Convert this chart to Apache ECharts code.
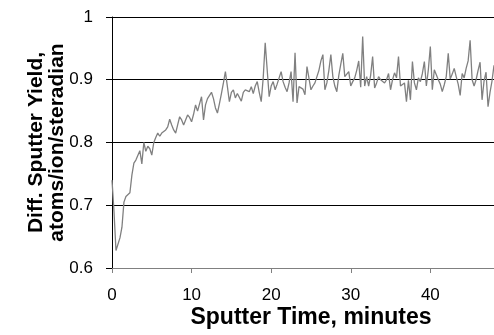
<!DOCTYPE html>
<html>
<head>
<meta charset="utf-8">
<script src="https://cdn.jsdelivr.net/npm/echarts@6/dist/echarts.min.js"></script>
<style>
html,body{margin:0;padding:0;background:#fff;}
#chart{width:494px;height:335px;}
</style>
</head>
<body>
<div id="chart"></div>
<script>
// Sputter time (minutes)
var times = [
0,0.25,0.5,0.75,1,1.25,1.5,1.75,2,2.25,2.5,2.75,3,3.25,3.5,3.75,
4,4.25,4.5,4.75,5,5.25,5.5,5.75,6,6.25,6.5,6.75,7,7.25,7.5,7.75,
8,8.25,8.5,8.75,9,9.25,9.5,9.75,10,10.25,10.5,10.75,11,11.25,11.5,11.75,
12,12.25,12.5,12.75,13,13.25,13.5,13.75,14,14.25,14.5,14.75,15,15.25,15.5,15.75,
16,16.25,16.5,16.75,17,17.25,17.5,17.75,18,18.25,18.5,18.75,19,19.25,19.5,19.75,
20,20.25,20.5,20.75,21,21.25,21.5,21.75,22,22.25,22.5,22.75,23,23.25,23.5,23.75,
24,24.25,24.5,24.75,25,25.25,25.5,25.75,26,26.25,26.5,26.75,27,27.25,27.5,27.75,
28,28.25,28.5,28.75,29,29.25,29.5,29.75,30,30.25,30.5,30.75,31,31.25,31.5,31.75,
32,32.25,32.5,32.75,33,33.25,33.5,33.75,34,34.25,34.5,34.75,35,35.25,35.5,35.75,
36,36.25,36.5,36.75,37,37.25,37.5,37.75,38,38.25,38.5,38.75,39,39.25,39.5,39.75,
40,40.25,40.5,40.75,41,41.25,41.5,41.75,42,42.25,42.5,42.75,43,43.25,43.5,43.75,
44,44.25,44.5,44.75,45,45.25,45.5,45.75,46,46.25,46.5,46.75,47,47.25,47.5,47.75,
48
];
// Differential sputter yield (atoms/ion/steradian)
var yields = [
0.740,0.690,0.628,0.630,0.648,0.665,0.705,0.714,0.716,0.720,0.748,0.767,0.772,0.769,0.787,0.766,
0.800,0.786,0.794,0.790,0.780,0.800,0.808,0.815,0.810,0.815,0.812,0.820,0.825,0.837,0.828,0.820,
0.815,0.828,0.841,0.836,0.828,0.836,0.844,0.840,0.833,0.845,0.860,0.850,0.852,0.873,0.836,0.860,
0.870,0.867,0.880,0.870,0.855,0.847,0.862,0.878,0.895,0.913,0.889,0.865,0.880,0.884,0.871,0.878,
0.876,0.866,0.880,0.884,0.882,0.881,0.889,0.878,0.890,0.897,0.880,0.865,0.903,0.959,0.916,0.873,
0.890,0.897,0.884,0.893,0.903,0.913,0.897,0.888,0.881,0.895,0.913,0.865,0.943,0.863,0.889,0.892,
0.885,0.876,0.921,0.920,0.884,0.890,0.895,0.897,0.915,0.930,0.940,0.884,0.895,0.915,0.940,0.905,
0.890,0.881,0.907,0.925,0.942,0.905,0.903,0.913,0.890,0.897,0.903,0.915,0.930,0.888,0.969,0.890,
0.905,0.890,0.907,0.937,0.887,0.895,0.905,0.900,0.897,0.895,0.900,0.910,0.884,0.900,0.911,0.903,
0.937,0.890,0.893,0.895,0.865,0.899,0.868,0.929,0.895,0.884,0.903,0.897,0.910,0.929,0.890,0.916,
0.953,0.884,0.916,0.908,0.900,0.893,0.881,0.892,0.905,0.942,0.901,0.909,0.918,0.905,0.893,0.875,
0.910,0.903,0.918,0.930,0.963,0.900,0.890,0.900,0.915,0.928,0.868,0.898,0.912,0.857,0.880,0.898,
0.923
];
var xTitle = 'Sputter Time, minutes';
var yTitle = 'Diff. Sputter Yield,\natoms/ion/steradian';

var FONT = '"Liberation Sans", Arial, sans-serif';
var chart = echarts.init(document.getElementById('chart'), null, {renderer: 'canvas'});
chart.setOption({
  animation: false,
  backgroundColor: '#ffffff',
  grid: {left: 112, right: 0, top: 17, bottom: 67, containLabel: false},
  xAxis: {
    type: 'value', min: 0, max: 48, interval: 10,
    name: xTitle, nameLocation: 'middle', nameGap: 38, nameMoveOverlap: false,
    nameTextStyle: {fontFamily: FONT, fontWeight: 'bold', fontSize: 23, color: '#000', padding: [0, 0, 0, 16]},
    axisLine: {show: true, onZero: false, lineStyle: {color: '#808080', width: 1}},
    axisTick: {show: true, inside: false, length: 5, lineStyle: {color: '#808080'}},
    axisLabel: {fontFamily: FONT, fontSize: 17, color: '#000', margin: 19,
      showMaxLabel: false,
      formatter: function (v) { return (v % 10 === 0) ? String(v) : ''; }},
    splitLine: {show: false}
  },
  yAxis: {
    type: 'value', min: 0.6, max: 1, interval: 0.1,
    name: yTitle, nameLocation: 'middle', nameGap: 44, nameRotate: 90, nameMoveOverlap: false,
    nameTextStyle: {fontFamily: FONT, fontWeight: 'bold', fontSize: 21, color: '#000', lineHeight: 21},
    axisLine: {show: true, lineStyle: {color: '#000', width: 1}},
    axisTick: {show: true, inside: false, length: 6, lineStyle: {color: '#000'}},
    axisLabel: {fontFamily: FONT, fontSize: 17, color: '#000', margin: 19,
      formatter: function (v) { return String(Math.round(v * 10) / 10); }},
    splitLine: {show: true, lineStyle: {color: '#000', width: 1}}
  },
  series: [{
    type: 'line',
    data: times.map(function (t, i) { return [t, yields[i]]; }),
    showSymbol: false,
    symbol: 'none',
    lineStyle: {color: '#808080', width: 1.3},
    clip: true
  }]
});
</script>
</body>
</html>
